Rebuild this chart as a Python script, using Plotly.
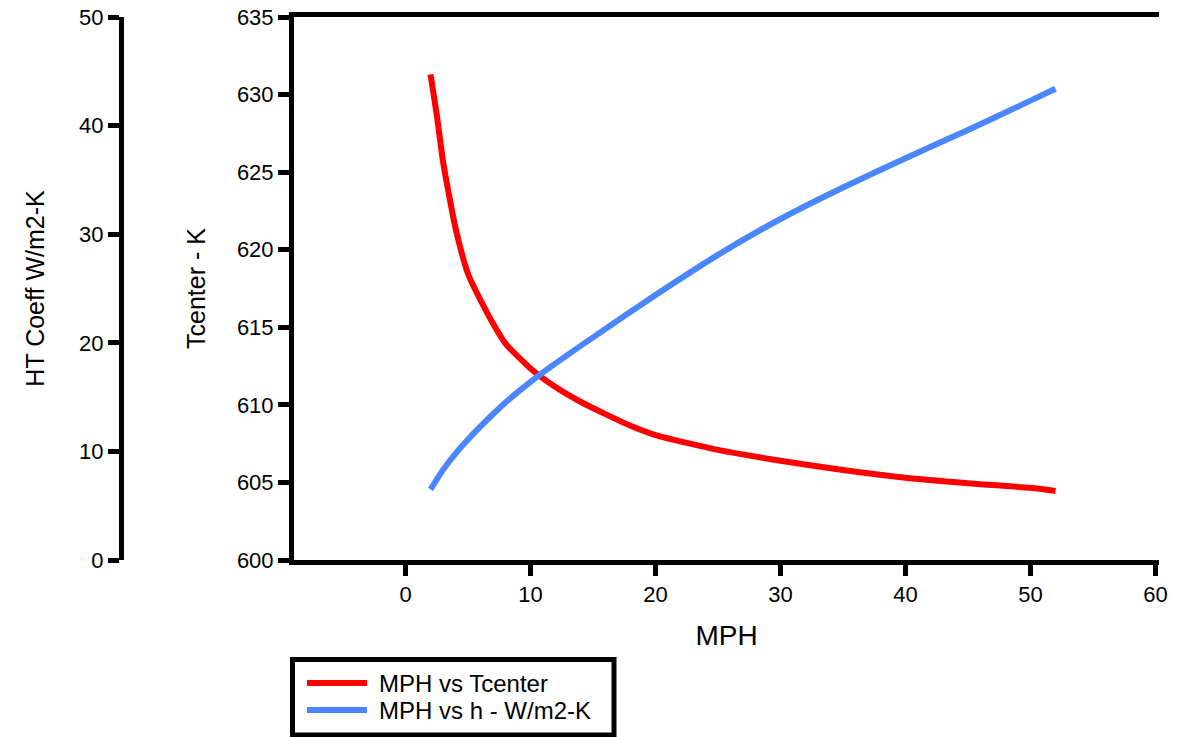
import plotly.graph_objects as go

# ---- data ----
mph_t = [2, 2.5, 3, 3.5, 4, 5, 6, 7, 8, 10, 12, 14, 16, 18, 20, 25, 30, 35, 40, 45, 50, 52]
tcenter = [631.3, 628.7, 625.7, 623.45, 621.4, 618.45, 616.75, 615.25, 613.95, 612.35, 611.15,
           610.2, 609.4, 608.65, 608.05, 607.1, 606.4, 605.8, 605.3, 604.95, 604.65, 604.45]

mph_h = [2, 3, 4, 5, 6, 8, 10, 12, 15, 20, 25, 30, 35, 40, 45, 50, 52]
h_coeff = [6.5, 8.3, 9.8, 11.1, 12.3, 14.5, 16.4, 18.1, 20.5, 24.4, 28.1, 31.4, 34.3, 37.0, 39.6, 42.3, 43.4]

x_ticks = [0, 10, 20, 30, 40, 50, 60]
t_ticks = [600, 605, 610, 615, 620, 625, 630, 635]
h_ticks = [0, 10, 20, 30, 40, 50]

names = ["MPH vs Tcenter", "MPH vs h - W/m2-K"]
colors = ["#FF0000", "#4A86FF"]

W, H = 1195, 737
FONT = "Liberation Sans, Arial, sans-serif"


def px(x):
    return x / W


def py(y):
    return (H - y) / H


fig = go.Figure()
fig.add_trace(go.Scatter(x=mph_t, y=tcenter, mode="lines", name=names[0],
                         line=dict(color=colors[0], width=6, shape="spline", smoothing=0.6),
                         yaxis="y", showlegend=False))
fig.add_trace(go.Scatter(x=mph_h, y=h_coeff, mode="lines", name=names[1],
                         line=dict(color=colors[1], width=6, shape="spline", smoothing=0.6),
                         yaxis="y2", showlegend=False))

axis_common = dict(showline=True, linewidth=5, linecolor="black", ticks="outside",
                   ticklen=11, tickwidth=5, tickcolor="black", showgrid=False, zeroline=False,
                   tickfont=dict(family=FONT, size=22, color="black"), automargin=False)

fig.update_layout(
    width=W, height=H,
    margin=dict(l=0, r=0, t=0, b=0),
    paper_bgcolor="white", plot_bgcolor="white",
    template="none",
    xaxis=dict(domain=[px(294), px(1159)], range=[-8.92, 60.28], tickvals=x_ticks,
               mirror=True, anchor="y",
               title=dict(text="MPH", font=dict(family=FONT, size=28, color="black"), standoff=20),
               **axis_common),
    yaxis=dict(domain=[py(560), py(17)], range=[600, 635], tickvals=t_ticks, anchor="x",
               title=dict(text="Tcenter - K", font=dict(family=FONT, size=25, color="black"), standoff=26),
               **axis_common),
    yaxis2=dict(domain=[py(560), py(17)], range=[0, 50], tickvals=h_ticks, overlaying="y",
                anchor="free", position=px(121), side="left",
                title=dict(text="HT Coeff W/m2-K", font=dict(family=FONT, size=25, color="black"), standoff=26),
                **axis_common),
    showlegend=False,
)

# boxed legend below the plot, as in the reference
shapes = [dict(type="rect", xref="paper", yref="paper", x0=px(292.5), x1=px(614), y0=py(735), y1=py(659.5),
               line=dict(color="black", width=5), fillcolor="rgba(0,0,0,0)")]
annotations = []
for i, (nm, col) in enumerate(zip(names, colors)):
    yy = 683 + 27 * i
    shapes.append(dict(type="line", xref="paper", yref="paper", x0=px(307), x1=px(367), y0=py(yy), y1=py(yy),
                       line=dict(color=col, width=6)))
    annotations.append(dict(text=nm, xref="paper", yref="paper", x=px(377), y=py(yy), xanchor="left",
                            yanchor="middle", showarrow=False, font=dict(family=FONT, size=24, color="black")))
fig.update_layout(shapes=shapes, annotations=annotations)

fig.write_html("out.html", config={"displayModeBar": False},
               post_script="document.body.style.margin='0';document.body.style.overflow='hidden';")
